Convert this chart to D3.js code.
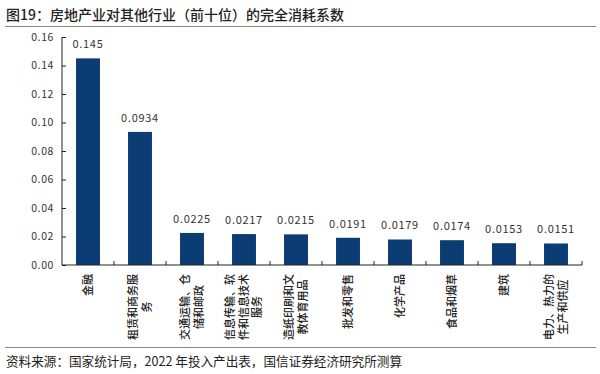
<!DOCTYPE html>
<html>
<head>
<meta charset="utf-8">
<script src="https://cdn.jsdelivr.net/npm/d3@7"></script>
<style>
  body { margin: 0; background: #fff; }
  svg { display: block; font-family: "Noto Sans CJK SC", "Noto Sans", sans-serif; }
</style>
</head>
<body>
<div id="chart"></div>
<script>
// chart data
var categories = ["金融", "租赁和商务服务", "交通运输、仓储和邮政", "信息传输、软件和信息技术服务",
    "造纸印刷和文教体育用品", "批发和零售", "化学产品", "食品和烟草", "建筑", "电力、热力的生产和供应"];
// how each category label is wrapped in the picture
var categoryLines = [
    ["金融"],
    ["租赁和商务服", "务"],
    ["交通运输、仓", "储和邮政"],
    ["信息传输、软", "件和信息技术", "服务"],
    ["造纸印刷和文", "教体育用品"],
    ["批发和零售"],
    ["化学产品"],
    ["食品和烟草"],
    ["建筑"],
    ["电力、热力的", "生产和供应"]
];
var values = [0.145, 0.0934, 0.0225, 0.0217, 0.0215, 0.0191, 0.0179, 0.0174, 0.0153, 0.0151];
var valueLabels = ["0.145", "0.0934", "0.0225", "0.0217", "0.0215", "0.0191", "0.0179", "0.0174", "0.0153", "0.0151"];
var yTicks = [0, 0.02, 0.04, 0.06, 0.08, 0.10, 0.12, 0.14, 0.16];

var title = "图19：房地产业对其他行业（前十位）的完全消耗系数";
var source = "资料来源：国家统计局，2022 年投入产出表，国信证券经济研究所测算";

var width = 600, height = 374;
var plotLeft = 62, plotRight = 582, plotTop = 37, plotBottom = 265;

var svg = d3.select("#chart").append("svg")
    .attr("width", width)
    .attr("height", height);

// title and rules
svg.append("text")
    .attr("x", 6).attr("y", 20)
    .attr("font-size", "14px")
    .attr("font-weight", 500)
    .attr("fill", "#222")
    .text(title);
svg.append("line")
    .attr("x1", 5).attr("x2", 596).attr("y1", 26.5).attr("y2", 26.5)
    .attr("stroke", "#888").attr("stroke-width", 1.2);
svg.append("line")
    .attr("x1", 5).attr("x2", 596).attr("y1", 347.5).attr("y2", 347.5)
    .attr("stroke", "#888").attr("stroke-width", 1.2);
svg.append("text")
    .attr("x", 6).attr("y", 366)
    .attr("font-size", "12.6px")
    .attr("fill", "#222")
    .text(source);

var x = d3.scaleBand()
    .domain(categories)
    .range([plotLeft, plotRight])
    .padding(0);

var y = d3.scaleLinear()
    .domain([0, 0.16])
    .range([plotBottom, plotTop]);

var barW = x.bandwidth() * 0.46;

// y axis
var yAxis = svg.append("g")
    .attr("transform", "translate(" + plotLeft + ",0)")
    .call(d3.axisLeft(y).tickValues(yTicks).tickSize(-4).tickPadding(8).tickFormat(d3.format(".2f")));
yAxis.select(".domain").attr("stroke", "#222").attr("d", "M0," + y(0.16) + "V" + y(0));
yAxis.selectAll(".tick line").attr("stroke", "#222");
yAxis.selectAll(".tick text")
    .attr("font-size", "10.5px")
    .attr("fill", "#333")
    .attr("letter-spacing", "0.6px")
    .attr("font-family", "'Noto Sans CJK SC', sans-serif");

// bars
svg.selectAll(".bar")
    .data(values)
    .enter()
    .append("rect")
    .attr("class", "bar")
    .attr("x", (d, i) => x(categories[i]) + (x.bandwidth() - barW) / 2)
    .attr("y", d => y(d))
    .attr("width", barW)
    .attr("height", d => y(0) - y(d))
    .attr("fill", "#0b3c74");

// value labels
svg.selectAll(".vlabel")
    .data(values)
    .enter()
    .append("text")
    .attr("class", "vlabel")
    .attr("x", (d, i) => x(categories[i]) + x.bandwidth() / 2)
    .attr("y", d => y(d) - 10)
    .attr("text-anchor", "middle")
    .attr("font-size", "11px")
    .attr("letter-spacing", "0.7px")
    .attr("fill", "#333")
    .text((d, i) => valueLabels[i]);

// x axis, ticks between categories pointing inward
var xAxis = svg.append("g")
    .attr("transform", "translate(0," + plotBottom + ")");
xAxis.append("line")
    .attr("x1", plotLeft).attr("x2", plotRight)
    .attr("stroke", "#222");
xAxis.selectAll(".xtick")
    .data(categories)
    .enter()
    .append("line")
    .attr("class", "xtick")
    .attr("x1", d => x(d) + x.step())
    .attr("x2", d => x(d) + x.step())
    .attr("y1", 0).attr("y2", -4)
    .attr("stroke", "#222");

// category labels, rotated, each block top-aligned, lines centered
var fs = 11, lineGap = 13.5;
var labelG = svg.selectAll(".clabel")
    .data(categoryLines)
    .enter()
    .append("g")
    .attr("class", "clabel")
    .attr("transform", function(lines, i) {
        var maxLen = d3.max(lines, l => l.length);
        var cx = x(categories[i]) + x.bandwidth() / 2;
        var cy = plotBottom + 9 + maxLen * fs / 2;
        return "translate(" + cx + "," + cy + ") rotate(-90)";
    });
labelG.selectAll("text")
    .data(lines => lines.map((l, j) => ({text: l, j: j, n: lines.length})))
    .enter()
    .append("text")
    .attr("x", 0)
    .attr("y", d => (d.j - (d.n - 1) / 2) * lineGap)
    .attr("dy", "0.35em")
    .attr("text-anchor", "middle")
    .attr("font-size", fs + "px")
    .attr("font-weight", 500)
    .attr("fill", "#222")
    .text(d => d.text);
</script>
</body>
</html>
